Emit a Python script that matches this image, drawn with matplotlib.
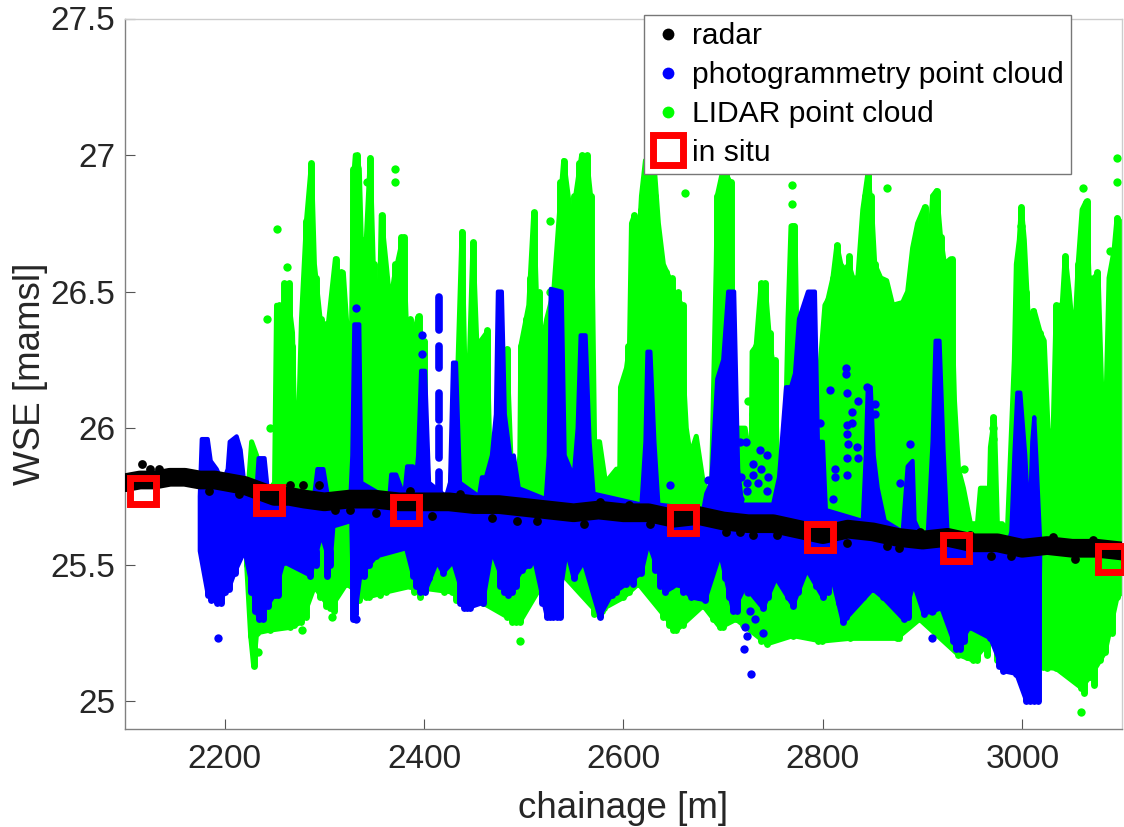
import numpy as np
import matplotlib
matplotlib.use('Agg')
import matplotlib.pyplot as plt
from matplotlib.lines import Line2D

plt.rcParams['font.family'] = ['Liberation Sans', 'DejaVu Sans']

# LIDAR point cloud, upper and lower outline
lidar_top_x = [2222, 2227, 2232, 2240, 2250, 2252, 2258, 2262, 2268, 2272, 2277, 2282, 2287, 2290, 2296,
               2303, 2311, 2315, 2319, 2323, 2327, 2329, 2331, 2335, 2337, 2342, 2346, 2349, 2355, 2357,
               2362, 2366, 2370, 2379, 2382, 2390, 2394, 2398, 2405, 2425, 2432, 2438, 2441, 2445, 2449,
               2453, 2463, 2466, 2472, 2483, 2487, 2492, 2496, 2497, 2505, 2510, 2513, 2518, 2523, 2530,
               2536, 2540, 2548, 2554, 2558, 2563, 2567, 2569, 2571, 2576, 2582, 2593, 2596, 2597, 2603,
               2606, 2608, 2611, 2615, 2618, 2622, 2630, 2635, 2640, 2646, 2652, 2657, 2660, 2663, 2667,
               2673, 2680, 2688, 2693, 2694, 2700, 2707, 2712, 2716, 2722, 2728, 2729, 2733, 2738, 2742,
               2747, 2752, 2755, 2762, 2765, 2768, 2772, 2775, 2785, 2793, 2797, 2802, 2805, 2810, 2814,
               2818, 2822, 2826, 2830, 2835, 2840, 2845, 2849, 2852, 2858, 2864, 2870, 2880, 2885, 2890,
               2895, 2902, 2906, 2910, 2914, 2918, 2922, 2928, 2932, 2936, 2941, 2948, 2955, 2958, 2964,
               2966, 2968, 2972, 2975, 2980, 2985, 2992, 2994, 2997, 2999, 3002, 3006, 3012, 3018, 3022,
               3027, 3031, 3034, 3040, 3043, 3047, 3052, 3056, 3060, 3064, 3067, 3072, 3076, 3080, 3084,
               3087, 3092, 3095, 3100]
lidar_top_y = [25.70, 25.95, 25.90, 25.75, 25.80, 26.45, 26.30, 26.53, 26.35, 25.75, 26.40, 26.76, 26.97, 26.60, 26.39,
               26.35, 26.62, 26.50, 26.57, 26.35, 26.30, 26.90, 27.00, 26.95, 26.69, 26.69, 26.99, 26.60, 26.40, 26.78,
               26.60, 26.45, 26.55, 26.70, 26.40, 26.35, 26.41, 26.10, 25.70, 25.75, 26.00, 26.72, 26.20, 26.20, 26.68,
               26.30, 26.35, 25.90, 25.70, 26.29, 25.90, 25.70, 25.90, 26.30, 26.45, 26.79, 26.45, 26.30, 26.40, 26.50,
               26.80, 26.98, 26.75, 26.90, 27.00, 26.99, 26.85, 26.50, 25.95, 25.95, 25.80, 25.85, 25.75, 26.15, 26.22,
               26.30, 26.75, 26.78, 26.65, 26.85, 26.98, 27.00, 26.75, 26.60, 26.55, 26.48, 26.46, 26.20, 26.00, 25.90,
               25.97, 25.80, 25.75, 26.60, 26.85, 26.95, 26.90, 26.00, 26.00, 26.00, 25.85, 26.28, 26.30, 26.53, 26.53,
               26.30, 26.20, 25.80, 25.90, 26.40, 26.74, 26.74, 26.10, 25.95, 25.85, 26.22, 26.45, 26.47, 26.55, 26.67,
               26.60, 26.58, 26.60, 26.55, 26.55, 26.80, 26.93, 26.80, 26.60, 26.55, 26.54, 26.45, 26.46, 26.50, 26.66,
               26.75, 26.81, 26.60, 26.85, 26.87, 26.70, 26.60, 26.62, 26.10, 25.85, 25.78, 25.65, 25.65, 25.78, 25.78,
               25.62, 25.93, 26.04, 25.65, 25.65, 25.62, 26.25, 26.60, 26.69, 26.81, 26.69, 26.40, 26.43, 26.35, 26.32,
               25.90, 26.00, 26.45, 26.45, 26.63, 26.50, 26.30, 26.60, 26.80, 26.83, 26.55, 26.55, 26.57, 26.10, 26.10,
               26.55, 26.65, 26.77, 26.75]
lidar_low_x = [2222, 2226, 2229, 2232, 2245, 2265, 2277, 2290, 2306, 2322, 2342, 2362, 2386, 2428, 2459, 2483, 2496,
               2530, 2570, 2580, 2600, 2615, 2653, 2680, 2697, 2713, 2744, 2770, 2799, 2827, 2874, 2897, 2936, 2951,
               2985, 3021, 3034, 3059, 3068, 3083, 3095, 3100]
lidar_low_y = [25.50, 25.24, 25.13, 25.25, 25.26, 25.27, 25.29, 25.42, 25.34, 25.43, 25.38, 25.40, 25.42, 25.40, 25.36, 25.31, 25.29,
               25.50, 25.34, 25.34, 25.38, 25.43, 25.26, 25.35, 25.27, 25.30, 25.21, 25.24, 25.22, 25.23, 25.23, 25.30, 25.17, 25.15,
               25.30, 25.125, 25.12, 25.05, 25.09, 25.18, 25.38, 25.40]
# columns that stand out of the LIDAR outline
lidar_col_x = [2254, 2259, 2264, 2268, 2278, 2282, 2287, 2292, 2297, 2302, 2308, 2312, 2317, 2322, 2329, 2333, 2338, 2346, 2350,
               2358, 2362, 2366, 2371, 2377, 2380, 2386, 2391, 2395, 2400, 2438, 2443, 2449, 2455, 2459, 2463, 2483, 2497, 2502,
               2506, 2510, 2515, 2520, 2536, 2540, 2545, 2550, 2555, 2558, 2563, 2567, 2605, 2611, 2618, 2623, 2628, 2632, 2637,
               2643, 2649, 2655, 2660, 2694, 2698, 2703, 2708, 2733, 2738, 2742, 2747, 2752, 2769, 2771, 2805, 2810, 2814, 2820,
               2826, 2842, 2845, 2848, 2852, 2896, 2902, 2910, 2914, 2918, 2929, 2971, 2995, 2999, 3004, 3011, 3018, 3034, 3043,
               3056, 3061, 3065, 3075, 3088, 3092, 3095]
lidar_col_top = [26.45, 26.53, 26.53, 26.30, 26.40, 26.76, 26.97, 26.55, 26.40, 26.38, 26.45, 26.62, 26.57, 26.35, 26.95, 27.00, 26.69, 26.99, 26.60,
                 26.78, 26.55, 26.50, 26.60, 26.70, 26.70, 26.40, 26.35, 26.41, 26.32, 26.72, 26.25, 26.68, 26.28, 26.25, 26.36, 26.29, 26.30, 26.40,
                 26.55, 26.79, 26.50, 26.30, 26.90, 26.98, 26.80, 26.85, 26.97, 27.00, 27.00, 26.85, 26.30, 26.78, 26.80, 26.98, 27.00, 26.85, 26.65,
                 26.57, 26.55, 26.50, 26.45, 26.85, 26.90, 26.94, 26.90, 26.30, 26.53, 26.53, 26.35, 26.25, 26.74, 26.74, 26.47, 26.55, 26.67, 26.58,
                 26.63, 26.85, 26.93, 26.85, 26.60, 26.75, 26.81, 26.85, 26.87, 26.70, 26.62, 26.04, 26.60, 26.81, 26.50, 26.43, 26.35, 26.45, 26.63,
                 26.60, 26.80, 26.83, 26.57, 26.55, 26.65, 26.77]
# strands hanging below the green body
lidar_drop_x = [2238, 2250, 2256, 2262, 2270, 2273, 2282, 2296, 2302, 2310, 2318, 2326, 2335, 2345, 2356, 2367, 2390, 2396, 2420, 2432,
                2440, 2470, 2478, 2488, 2492, 2570, 2578, 2584, 2606, 2640, 2646, 2650, 2660, 2668, 2690, 2700, 2706, 2720, 2733, 2738,
                2750, 2762, 2780, 2790, 2795, 2810, 2818, 2835, 2860, 2866, 2876, 2884, 2906, 2945, 2955, 2965, 2975, 3025, 3040, 3050,
                3055, 3062, 3072, 3078, 3090]
lidar_drop_y = [25.28, 25.30, 25.28, 25.30, 25.28, 25.30, 25.31, 25.38, 25.35, 25.33, 25.42, 25.43, 25.37, 25.38, 25.39, 25.46, 25.40, 25.38, 25.40, 25.37,
                25.36, 25.37, 25.33, 25.29, 25.29, 25.32, 25.33, 25.36, 25.40, 25.31, 25.28, 25.26, 25.28, 25.33, 25.30, 25.27, 25.30, 25.28, 25.27, 25.22,
                25.24, 25.27, 25.28, 25.24, 25.22, 25.33, 25.30, 25.30, 25.28, 25.24, 25.23, 25.30, 25.30, 25.16, 25.15, 25.17, 25.15, 25.12, 25.11, 25.18,
                25.10, 25.03, 25.06, 25.15, 25.25]
lidar_stray_x = [2252, 2242, 2262, 2245, 2371, 2371, 2343, 2526, 2526, 2662, 2769, 2769, 2864, 2999, 3059, 2496, 3061,
                 3095, 3088, 3095, 2233, 2245, 2278, 2308, 2640, 2655, 2725, 2730, 2942, 2971, 2971]
lidar_stray_y = [26.73, 26.40, 26.59, 26.00, 26.95, 26.90, 26.90, 26.76, 26.50, 26.86, 26.89, 26.82, 26.88, 26.74, 24.96, 25.22, 26.88,
                 26.99, 26.65, 26.90, 25.18, 25.30, 25.26, 25.31, 25.95, 25.98, 26.10, 26.05, 25.85, 26.00, 25.96]

# photogrammetry point cloud, outline with the narrow spikes in it
photo_top_x = [2175, 2177, 2183, 2186, 2192, 2198, 2203, 2205, 2212, 2216, 2219, 2232, 2234, 2240, 2243,
               2290, 2293, 2299, 2303, 2326, 2328, 2330, 2335, 2337, 2365, 2367, 2372, 2380, 2383, 2389,
               2392, 2394, 2397, 2401, 2405, 2422, 2426, 2429, 2432, 2436, 2455, 2458, 2462, 2468, 2472,
               2474, 2478, 2481, 2487, 2490, 2495, 2522, 2525, 2527, 2538, 2541, 2550, 2554, 2557, 2562,
               2566, 2570, 2618, 2622, 2624, 2627, 2631, 2635, 2680, 2683, 2688, 2694, 2700, 2705, 2711,
               2715, 2719, 2750, 2756, 2763, 2768, 2772, 2776, 2785, 2792, 2795, 2800, 2803, 2840, 2843,
               2845, 2848, 2851, 2855, 2862, 2880, 2885, 2890, 2892, 2897, 2905, 2910, 2913, 2917, 2921,
               2925, 2960, 2986, 2989, 2992, 2995, 2998, 3003, 3007, 3010, 3012, 3014, 3018]
photo_top_y = [25.75, 25.96, 25.96, 25.88, 25.85, 25.80, 25.85, 25.95, 25.97, 25.92, 25.82, 25.78, 25.89, 25.89, 25.78,
               25.76, 25.85, 25.85, 25.76, 25.74, 25.90, 26.38, 26.38, 25.80, 25.74, 25.83, 25.83, 25.75, 25.86, 25.86,
               25.82, 25.90, 26.21, 26.21, 25.80, 25.75, 25.80, 26.24, 26.24, 25.80, 25.75, 25.82, 25.82, 25.90, 26.05,
               26.50, 26.50, 26.05, 25.88, 25.90, 25.78, 25.74, 25.90, 26.51, 26.50, 25.90, 25.82, 26.00, 26.34, 26.34,
               25.95, 25.76, 25.72, 25.95, 26.28, 26.28, 25.95, 25.72, 25.70, 25.76, 25.80, 26.18, 26.25, 26.50, 26.50,
               25.85, 25.72, 25.72, 25.82, 26.15, 26.15, 26.20, 26.40, 26.50, 26.50, 25.95, 25.95, 25.70, 25.66, 25.90,
               26.15, 26.15, 25.90, 25.78, 25.66, 25.62, 25.86, 25.88, 25.66, 25.62, 25.60, 25.95, 26.32, 26.32, 25.92,
               25.62, 25.60, 25.58, 25.62, 25.90, 26.13, 26.13, 25.90, 25.62, 25.95, 26.04, 25.90, 25.58]
photo_low_x = [2175, 2183, 2192, 2204, 2210, 2220, 2234, 2250, 2259, 2286, 2297, 2306, 2309, 2327, 2329, 2331, 2336, 2352, 2372,
               2382, 2389, 2401, 2413, 2419, 2429, 2443, 2459, 2468, 2484, 2498, 2511, 2523, 2533, 2543, 2550, 2560, 2576,
               2588, 2603, 2618, 2625, 2642, 2655, 2668, 2682, 2697, 2710, 2722, 2740, 2753, 2770, 2784, 2800, 2810, 2820,
               2850, 2860, 2881, 2891, 2901, 2919, 2934, 2947, 2968, 2981, 2994, 3004, 3016, 3018]
photo_low_y = [25.55, 25.39, 25.36, 25.41, 25.47, 25.55, 25.30, 25.39, 25.51, 25.46, 25.61, 25.50, 25.64, 25.66, 25.30, 25.32, 25.46, 25.53, 25.55,
               25.56, 25.46, 25.40, 25.51, 25.47, 25.51, 25.34, 25.36, 25.55, 25.39, 25.48, 25.51, 25.31, 25.31, 25.55, 25.45, 25.51, 25.31,
               25.39, 25.43, 25.47, 25.58, 25.40, 25.43, 25.38, 25.37, 25.54, 25.33, 25.42, 25.34, 25.45, 25.35, 25.48, 25.38, 25.44, 25.29,
               25.41, 25.38, 25.30, 25.43, 25.32, 25.34, 25.19, 25.27, 25.23, 25.11, 25.10, 25.00, 25.00, 25.55]
# strands hanging below the blue body
photo_drop_x = [2186, 2196, 2200, 2226, 2230, 2238, 2243, 2247, 2253, 2292, 2303, 2340, 2345, 2392, 2396, 2405, 2436, 2440, 2446, 2450,
                2455, 2476, 2480, 2488, 2492, 2505, 2518, 2526, 2529, 2536, 2581, 2585, 2592, 2610, 2632, 2637, 2648, 2660, 2672, 2676,
                2702, 2706, 2714, 2735, 2745, 2760, 2765, 2775, 2793, 2805, 2816, 2823, 2830, 2840, 2855, 2870, 2878, 2885, 2895, 2906,
                2925, 2930, 2938, 2942, 2952, 2958, 2964, 2972, 2977, 2985, 2990, 2998, 3008, 3012]
photo_drop_y = [25.37, 25.36, 25.40, 25.40, 25.33, 25.30, 25.35, 25.42, 25.39, 25.50, 25.46, 25.46, 25.50, 25.42, 25.40, 25.45, 25.36, 25.34, 25.34, 25.36,
                25.37, 25.42, 25.40, 25.40, 25.42, 25.50, 25.36, 25.31, 25.31, 25.31, 25.42, 25.40, 25.40, 25.43, 25.48, 25.42, 25.42, 25.40, 25.39, 25.38,
                25.45, 25.38, 25.33, 25.38, 25.38, 25.42, 25.38, 25.40, 25.42, 25.40, 25.36, 25.31, 25.38, 25.38, 25.43, 25.37, 25.32, 25.31, 25.40, 25.37,
                25.30, 25.22, 25.19, 25.22, 25.27, 25.27, 25.25, 25.22, 25.13, 25.15, 25.13, 25.12, 25.00, 25.00]
photo_stray_x = [2807, 2823, 2823, 2824, 2835, 2844, 2852, 2852, 2829, 2824, 2829, 2824, 2825, 2834, 2835, 2824, 2824, 2812, 2812,
                 2810, 2877, 2887, 2797, 2723, 2717, 2737, 2744, 2730, 2738, 2730, 2745, 2718, 2724, 2735, 2744, 2724, 2717,
                 2722, 2732, 2724, 2721, 2728, 2740, 2727, 2725, 2909, 2909, 2193, 2332, 2332, 2398, 2398, 2647, 2685]
photo_stray_y = [26.14, 26.22, 26.20, 26.13, 26.10, 26.15, 26.09, 26.05, 26.06, 26.01, 26.02, 25.98, 25.94, 25.93, 25.89, 25.89, 25.83, 25.85, 25.82,
                 25.74, 25.80, 25.94, 26.02, 25.95, 25.95, 25.92, 25.90, 25.87, 25.85, 25.83, 25.82, 25.82, 25.80, 25.80, 25.77, 25.77, 25.74,
                 25.27, 25.30, 25.24, 25.19, 25.10, 25.25, 25.33, 25.40, 25.33, 25.23, 25.23, 26.44, 25.30, 26.34, 26.27, 25.79, 25.81]
# the broken column near 2415
photo_col_x = [2415, 2415, 2415, 2415, 2415]
photo_col_low = [26.36, 26.22, 26.03, 25.89, 25.72]
photo_col_top = [26.48, 26.30, 26.13, 26.00, 25.84]

# radar band
radar_x = [2100, 2115, 2130, 2145, 2160, 2175, 2190, 2205, 2220, 2235, 2250, 2265, 2280, 2300, 2325, 2350, 2375, 2400,
           2425, 2450, 2475, 2500, 2525, 2550, 2575, 2600, 2625, 2650, 2675, 2700, 2725, 2750, 2775, 2800, 2825,
           2850, 2875, 2900, 2925, 2950, 2975, 3000, 3025, 3050, 3075, 3100]
radar_y = [25.80, 25.81, 25.81, 25.82, 25.82, 25.81, 25.81, 25.80, 25.79, 25.77, 25.75, 25.75, 25.74, 25.73, 25.74, 25.74, 25.73, 25.73,
           25.73, 25.72, 25.72, 25.71, 25.70, 25.69, 25.70, 25.69, 25.69, 25.67, 25.68, 25.66, 25.65, 25.65, 25.63, 25.61, 25.63,
           25.62, 25.60, 25.59, 25.60, 25.58, 25.58, 25.56, 25.57, 25.56, 25.56, 25.55]
radar_stray_x = [2117, 2125, 2134, 2153, 2184, 2214, 2265, 2279, 2295, 2311, 2326, 2352, 2386, 2408, 2436, 2468, 2493, 2513, 2560, 2576,
                 2606, 2627, 2703, 2717, 2730, 2754, 2824, 2864, 2876, 2897, 2948, 2969, 2989, 3031, 3053, 3071]
radar_stray_y = [25.87, 25.85, 25.85, 25.84, 25.77, 25.76, 25.79, 25.79, 25.79, 25.70, 25.70, 25.69, 25.77, 25.68, 25.76, 25.67, 25.66, 25.66, 25.65, 25.73,
                 25.72, 25.65, 25.62, 25.62, 25.61, 25.61, 25.58, 25.57, 25.56, 25.62, 25.61, 25.53, 25.53, 25.60, 25.52, 25.59]

# in situ squares
insitu_x = [2118, 2244, 2382, 2660, 2797, 2933.5, 3089]
insitu_y = [25.77, 25.735, 25.70, 25.665, 25.60, 25.56, 25.52]

xticks = [2200, 2400, 2600, 2800, 3000]
yticks = [25, 25.5, 26, 26.5, 27, 27.5]
ytick_labels = ['25', '25.5', '26', '26.5', '27', '27.5']

W, H = 1124, 827
fig = plt.figure(figsize=(W / 100, H / 100), dpi=100)
ax = fig.add_axes([125 / W, 1 - 728.5 / H, 997 / W, 710 / H])

# LIDAR
ax.fill(lidar_top_x + lidar_low_x[::-1], lidar_top_y + lidar_low_y[::-1],
        facecolor='#00ff00', edgecolor='#00ff00', lw=3.6, joinstyle='round', zorder=2)
ax.vlines(lidar_col_x, 25.6, lidar_col_top, color='#00ff00', lw=5, capstyle='round', zorder=2)
ax.vlines(lidar_low_x, lidar_low_y, 25.6, color='#00ff00', lw=5, capstyle='round', zorder=2)
ax.vlines(lidar_drop_x, lidar_drop_y, 25.6, color='#00ff00', lw=5, capstyle='round', zorder=2)
ax.scatter(lidar_stray_x, lidar_stray_y, s=36, color='#00ff00', linewidths=0, zorder=2)

# photogrammetry, strands stop under the radar band
ax.fill(photo_top_x + photo_low_x[::-1], photo_top_y + photo_low_y[::-1],
        facecolor='#0000ff', edgecolor='#0000ff', lw=3.0, joinstyle='round', zorder=3)
ax.vlines(photo_low_x, photo_low_y, np.maximum(photo_low_y, 25.55), color='#0000ff', lw=5, capstyle='round', zorder=3)
ax.vlines(photo_drop_x, photo_drop_y, 25.55, color='#0000ff', lw=5, capstyle='round', zorder=3)
ax.scatter(photo_stray_x, photo_stray_y, s=36, color='#0000ff', linewidths=0, zorder=3)
ax.vlines(photo_col_x, photo_col_low, photo_col_top, color='#0000ff', lw=5.5, capstyle='round', zorder=3)

# radar
ax.plot(radar_x, radar_y, color='black', lw=13.5, solid_capstyle='round', zorder=4)
ax.scatter(radar_stray_x, radar_stray_y, s=40, color='black', linewidths=0, zorder=4)

# in situ
ax.plot(insitu_x, insitu_y, ls='none', marker='s', ms=19, mew=5, mec='#ff0000', mfc='none',
        clip_on=False, zorder=5)

ax.set_xlim(2100, 3100)
ax.set_ylim(24.9, 27.5)
ax.set_xticks(xticks)
ax.set_yticks(yticks)
ax.set_yticklabels(ytick_labels)
ax.tick_params(direction='in', length=7, width=0.8, color='#555555', labelsize=24, labelcolor='#262626')
ax.tick_params(axis='x', pad=11)
ax.tick_params(axis='y', pad=7)
ax.set_xlabel('chainage [m]', fontsize=26.5, color='#262626', labelpad=12)
ax.set_ylabel('WSE [mamsl]', fontsize=26.5, color='#262626', labelpad=2)
for side, c in [('left', '#808080'), ('bottom', '#808080'), ('top', '#cccccc'), ('right', '#cccccc')]:
    ax.spines[side].set_color(c)
    ax.spines[side].set_linewidth(1.0)

handles = [
    Line2D([], [], ls='none', marker='o', ms=8.5, color='black', mew=0),
    Line2D([], [], ls='none', marker='o', ms=8.5, color='#0000ff', mew=0),
    Line2D([], [], ls='none', marker='o', ms=8.5, color='#00ff00', mew=0),
    Line2D([], [], ls='none', marker='s', ms=22, mew=5, mec='#ff0000', mfc='none'),
]
leg = ax.legend(handles, ['radar', 'photogrammetry point cloud', 'LIDAR point cloud', 'in situ'],
                loc='upper left', bbox_to_anchor=(643.5 / W, 1 - 15 / H), bbox_transform=fig.transFigure,
                borderaxespad=0, borderpad=0.25, fontsize=21.6, labelspacing=0.36, handletextpad=0.2,
                handlelength=1.15, fancybox=False, framealpha=1, edgecolor='#777777')
leg.get_frame().set_linewidth(1.0)
leg.set_zorder(10)

fig.savefig('out.png', dpi=100)
plt.close(fig)
